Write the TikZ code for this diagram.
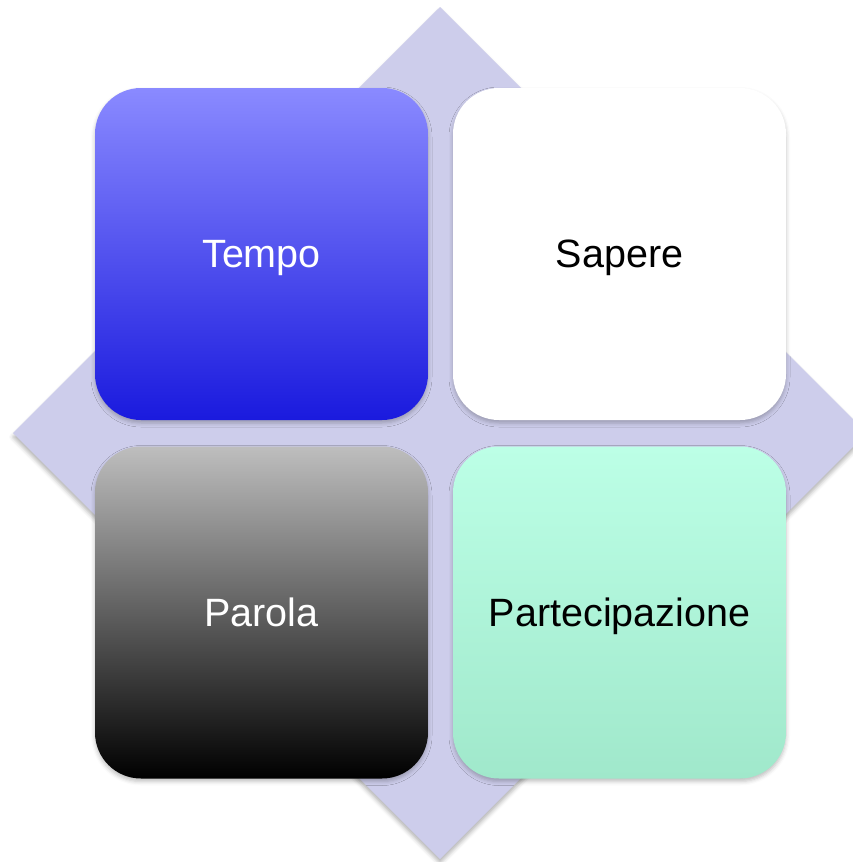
\documentclass[tikz,border=0pt]{standalone}
\usepackage{fontspec}
\setmainfont{Liberation Sans}
\usetikzlibrary{shadows.blur}
\definecolor{diam}{HTML}{CDCDEB}
\definecolor{tempotop}{HTML}{8A8AFF}
\definecolor{tempobot}{HTML}{1A1ADE}
\definecolor{partop}{HTML}{BEBEBE}
\definecolor{parbot}{HTML}{000000}
\definecolor{parttop}{HTML}{BCFFE6}
\definecolor{partbot}{HTML}{A0E8CB}
\tikzset{
  card/.style={rounded corners=46pt, minimum width=333pt, minimum height=332pt,
    inner sep=0pt, text depth=0pt, font=\fontsize{39.5}{44}\selectfont,
    blur shadow={shadow xshift=0pt, shadow yshift=-3pt, shadow blur radius=4pt, shadow opacity=25}},
}
\begin{document}
\begin{tikzpicture}[x=1pt,y=-1pt]
\useasboundingbox (0,0) rectangle (852,862);
\path[fill=diam, blur shadow={shadow xshift=0pt, shadow yshift=-4pt, shadow blur radius=4pt, shadow opacity=30}]
  (440,7) -- (867,433) -- (440,859) -- (13,433) -- cycle;
\node[card, top color=tempotop, bottom color=tempobot, text=white] (tempo) at (261.5,254) {Tempo};
\node[card, fill=white, text=black] (sapere) at (619.5,254) {Sapere};
\node[card, top color=partop, bottom color=parbot, text=white] (parola) at (261.5,612.5) {Parola};
\node[card, top color=parttop, bottom color=partbot, text=black] (part) at (619.5,612.5) {Partecipazione};
\end{tikzpicture}
\end{document}
